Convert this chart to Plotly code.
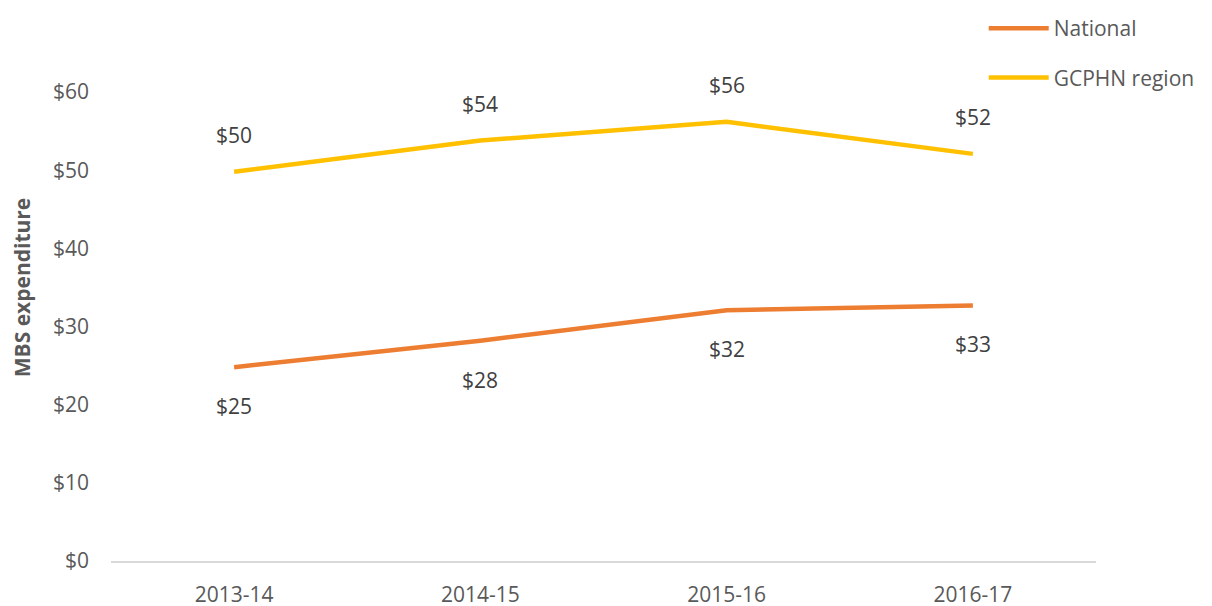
import plotly.graph_objects as go

categories = ["2013-14", "2014-15", "2015-16", "2016-17"]
national = [24.8, 28.2, 32.1, 32.7]
gcphn = [49.8, 53.8, 56.2, 52.1]
national_labels = ["$25", "$28", "$32", "$33"]
gcphn_labels = ["$50", "$54", "$56", "$52"]
y_ticks = [0, 10, 20, 30, 40, 50, 60]
y_tick_labels = ["$0", "$10", "$20", "$30", "$40", "$50", "$60"]

FONT = "Open Sans, Noto Sans, sans-serif"
GREY = "#595959"
FS = 21

fig = go.Figure()
fig.add_trace(go.Scatter(x=categories, y=national, mode="lines", name="National",
                         line=dict(color="#ED7D31", width=4.5), legendgroup="a"))
fig.add_trace(go.Scatter(x=categories, y=gcphn, mode="lines", name="GCPHN region",
                         line=dict(color="#FFC000", width=4.5), legendgroup="b"))

for c, v, t in zip(categories, national, national_labels):
    fig.add_annotation(x=c, y=v, text=t, showarrow=False, yshift=-39,
                       font=dict(family=FONT, size=FS, color="#404040"))
for c, v, t in zip(categories, gcphn, gcphn_labels):
    fig.add_annotation(x=c, y=v, text=t, showarrow=False, yshift=37,
                       font=dict(family=FONT, size=FS, color="#404040"))

fig.update_layout(
    width=1212, height=606,
    margin=dict(l=103, r=124, t=6, b=53, autoexpand=False),
    paper_bgcolor="white", plot_bgcolor="white",
    font=dict(family=FONT, size=FS, color=GREY),
    showlegend=True,
    legend=dict(x=0.886, y=1.006, xanchor="left", yanchor="top", yref="container",
                font=dict(family=FONT, size=FS, color=GREY),
                tracegroupgap=19, itemwidth=60, bgcolor="rgba(0,0,0,0)"),
    xaxis=dict(range=[-0.5, 3.5], showgrid=False, showline=True, linecolor="#D9D9D9",
               linewidth=1.5, ticks="", tickfont=dict(size=FS, color=GREY), zeroline=False,
               automargin=False, ticklabelstandoff=14),
    yaxis=dict(range=[0, 70], tickvals=y_ticks, ticktext=y_tick_labels, showgrid=False,
               showline=False, zeroline=False, ticks="", ticklabelstandoff=21,
               tickfont=dict(size=FS, color=GREY), automargin=False,
               title=dict(text="<b>MBS expenditure</b>", font=dict(size=FS, color=GREY), standoff=17)),
)

fig.write_html("out.html")
